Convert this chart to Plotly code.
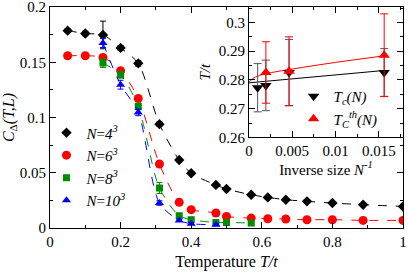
import plotly.graph_objects as go

# ---------------- main panel data ----------------
T4 = [0.05, 0.10, 0.15, 0.20, 0.25, 0.31, 0.366, 0.40, 0.47, 0.50, 0.57, 0.617, 0.668, 0.728, 0.80, 0.887, 1.0]
C4 = [0.1786, 0.1760, 0.1747, 0.1630, 0.1490, 0.0940, 0.0615, 0.0495, 0.0390, 0.0353, 0.0301, 0.0277, 0.0256, 0.0241, 0.0226, 0.0211, 0.0195]
E4 = [0.0015, 0.0020, 0.0125, 0.0020, 0.0025, 0.0020, 0.0015, 0.0012, 0.0010, 0.0010, 0.0010, 0.0010, 0.0008, 0.0008, 0.0008, 0.0008, 0.0008]

T6 = [0.05, 0.10, 0.15, 0.20, 0.25, 0.31, 0.366, 0.40, 0.47, 0.50, 0.57, 0.617, 0.668, 0.728, 0.80, 0.887, 1.0]
C6 = [0.1559, 0.1559, 0.1544, 0.1424, 0.1173, 0.0579, 0.0232, 0.0166, 0.0136, 0.0105, 0.0090, 0.0084, 0.0081, 0.0075, 0.0075, 0.0069, 0.0069]
E6 = [0.0012, 0.0015, 0.0020, 0.0020, 0.0025, 0.0020, 0.0012, 0.0010, 0.0008, 0.0008, 0.0008, 0.0008, 0.0008, 0.0008, 0.0008, 0.0008, 0.0008]

T8 = [0.15, 0.20, 0.25, 0.31, 0.366, 0.40, 0.47, 0.50, 0.57]
C8 = [0.1493, 0.1387, 0.1100, 0.0362, 0.0111, 0.0075, 0.0050, 0.0050, 0.0045]
E8 = [0.0040, 0.0030, 0.0030, 0.0050, 0.0015, 0.0010, 0.0010, 0.0010, 0.0010]

T10 = [0.15, 0.20, 0.25, 0.31, 0.366, 0.40, 0.47]
C10 = [0.1674, 0.1297, 0.1046, 0.0226, 0.0069, 0.0039, 0.0030]
E10 = [0.0040, 0.0040, 0.0030, 0.0020, 0.0010, 0.0010, 0.0010]

# ---------------- inset data ----------------
invN_c = [1/1000, 1/512, 1/216, 1/64]
Tc = [0.2773, 0.2781, 0.2826, 0.2826]
Tc_err = [0.0084, 0.0088, 0.0115, 0.0083]

invN_th = [1/512, 1/216, 1/64]
Tth = [0.2826, 0.2830, 0.2886]
Tth_err = [0.0107, 0.0120, 0.0144]

fit_c_x = [0.0, 1/64]
fit_c_y = [0.2790, 0.2833]
fit_th_x = [0.0, 0.0005, 0.001, 0.002, 0.005, 0.01, 1/64]
fit_th_y = [0.2792, 0.2806, 0.2813, 0.2822, 0.2838, 0.2861, 0.2884]

FONT = "Liberation Serif"
BLACK, RED, GREEN, BLUE = "#000000", "#ff0000", "#008c00", "#0000ff"

fig = go.Figure()

series = [
    (T4, C4, E4, BLACK, "diamond", 8, "<i>N</i>=<i>4</i><sup><i>3</i></sup>"),
    (T6, C6, E6, RED, "circle", 9, "<i>N</i>=<i>6</i><sup><i>3</i></sup>"),
    (T8, C8, E8, GREEN, "square", 7, "<i>N</i>=<i>8</i><sup><i>3</i></sup>"),
    (T10, C10, E10, BLUE, "triangle-up", 8, "<i>N</i>=<i>10</i><sup><i>3</i></sup>"),
]
for x, y, e, col, sym, sz, name in series:
    fig.add_trace(go.Scatter(
        x=x, y=y, mode="lines", line=dict(color=col, width=1, dash="dash", shape="spline", smoothing=0.8),
        showlegend=False, hoverinfo="skip", xaxis="x", yaxis="y"))
    fig.add_trace(go.Scatter(
        x=x, y=y, mode="markers", name=name,
        marker=dict(color=col, symbol=sym, size=sz, line=dict(width=0)),
        error_y=dict(type="data", array=e, color=col, thickness=1, width=3),
        xaxis="x", yaxis="y", legend="legend"))

# inset
fig.add_trace(go.Scatter(x=fit_c_x, y=fit_c_y, mode="lines", line=dict(color=BLACK, width=1),
                         showlegend=False, xaxis="x2", yaxis="y2"))
fig.add_trace(go.Scatter(x=fit_th_x, y=fit_th_y, mode="lines", line=dict(color=RED, width=1, shape="spline"),
                         showlegend=False, xaxis="x2", yaxis="y2"))
fig.add_trace(go.Scatter(
    x=invN_c, y=Tc, mode="markers", name="<i>T</i><sub><i>c</i></sub><i>(N)</i>",
    marker=dict(color=BLACK, symbol="triangle-down", size=10),
    error_y=dict(type="data", array=Tc_err, color="#555555", thickness=1, width=4),
    xaxis="x2", yaxis="y2", legend="legend2"))
fig.add_trace(go.Scatter(
    x=invN_th, y=Tth, mode="markers", name="<i>T</i><sub><i>C</i></sub><sup><i>th</i></sup><i>(N)</i>",
    marker=dict(color=RED, symbol="triangle-up", size=10),
    error_y=dict(type="data", array=Tth_err, color=RED, thickness=1, width=4),
    xaxis="x2", yaxis="y2", legend="legend2"))

axis_common = dict(showline=True, linecolor="black", linewidth=1, mirror="ticks",
                   ticks="inside", ticklen=6, tickcolor="black", showgrid=False, zeroline=False,
                   automargin=False, ticklabeloverflow="allow",
                   tickfont=dict(family=FONT, size=15, color="black"))

fig.update_layout(
    width=408, height=273,
    margin=dict(l=50, r=5, t=7, b=45, autoexpand=False),
    paper_bgcolor="white", plot_bgcolor="white",
    font=dict(family=FONT, size=15, color="black"),
    xaxis=dict(domain=[0, 1], range=[0, 1], dtick=0.2, tick0=0,
               minor=dict(ticks="inside", ticklen=3, dtick=0.1, tickcolor="black"),
               title=dict(text="Temperature <i>T/t</i>", font=dict(family=FONT, size=16), standoff=6),
               anchor="y", **axis_common),
    yaxis=dict(domain=[0, 1], range=[0, 0.2], dtick=0.05, tick0=0,
               minor=dict(ticks="inside", ticklen=3, dtick=0.025, tickcolor="black"),
               title=dict(text="<i>C</i><sub>Δ</sub><i>(T,L)</i>", font=dict(family=FONT, size=16), standoff=2),
               anchor="x", **axis_common),
    xaxis2=dict(domain=[0.5637, 1], range=[0, 0.0178], dtick=0.005, tick0=0,
                minor=dict(ticks="inside", ticklen=3, dtick=0.0025, tickcolor="black"),
                title=dict(text="Inverse size <i>N</i><sup><i>-1</i></sup>", font=dict(family=FONT, size=15), standoff=2),
                anchor="y2", **axis_common),
    yaxis2=dict(domain=[0.41, 1], range=[0.26, 0.3054], dtick=0.01, tick0=0.26,
                minor=dict(ticks="inside", ticklen=3, dtick=0.005, tickcolor="black"),
                title=dict(text="<i>T/t</i>", font=dict(family=FONT, size=15), standoff=4),
                anchor="x2", **axis_common),
    legend=dict(x=-0.01, y=0.505, xanchor="left", yanchor="top", bgcolor="rgba(0,0,0,0)",
                font=dict(family=FONT, size=15), tracegroupgap=0, itemwidth=30),
    legend2=dict(x=0.69, y=0.67, xanchor="left", yanchor="top", bgcolor="rgba(0,0,0,0)",
                 font=dict(family=FONT, size=15), tracegroupgap=0, itemwidth=30),
)

fig.write_html("out.html", config={"displayModeBar": False},
               post_script="document.body.style.margin='0';document.body.style.overflow='hidden';")
